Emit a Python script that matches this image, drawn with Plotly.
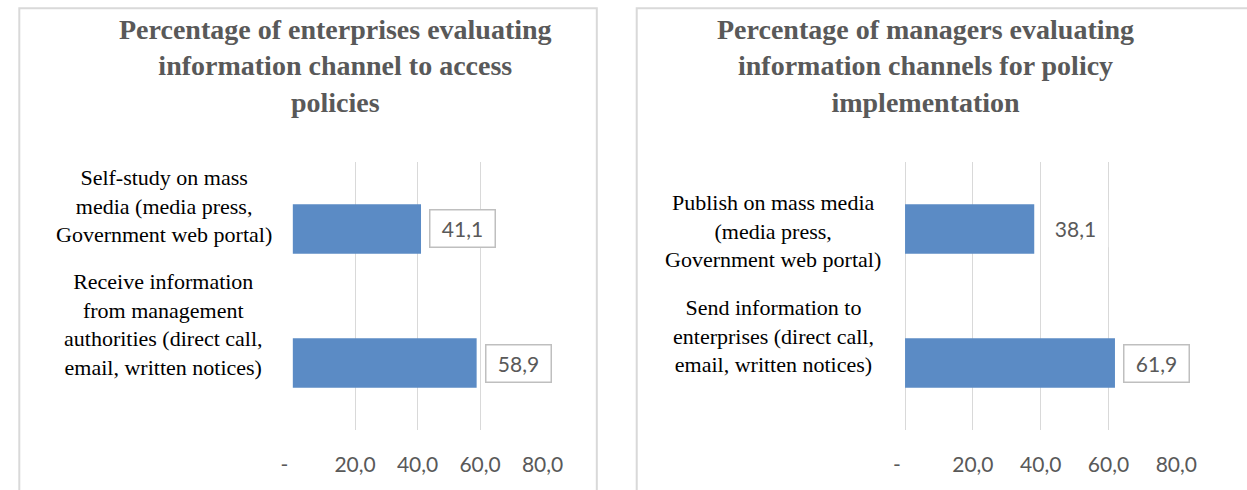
import plotly.graph_objects as go

# Survey results: share (%) choosing each information channel
left_title = "Percentage of enterprises evaluating<br>information channel to access<br>policies"
left_categories = [
    "Self-study on mass<br>media (media press,<br>Government web portal)",
    "Receive information<br>from management<br>authorities (direct call,<br>email, written notices)",
]
left_values = [41.1, 58.9]

right_title = "Percentage of managers evaluating<br>information channels for policy<br>implementation"
right_categories = [
    "Publish on mass media<br>(media press,<br>Government web portal)",
    "Send information to<br>enterprises (direct call,<br>email, written notices)",
]
right_values = [38.1, 61.9]

tick_values = [0, 20, 40, 60, 80]
tick_labels = ["-\u00a0\u00a0\u00a0", "20,0", "40,0", "60,0", "80,0"]

# ---- styling / layout constants ----
W, H = 1247, 490
BAR_COLOR = "#5b8bc5"
GRID = "#d9d9d9"
TEXT_GREY = "#595959"
SERIF = "Liberation Serif, Times New Roman, serif"
SANS = "Lato, Calibri, sans-serif"


def px_x(v):
    return v / W


def px_y(v):
    return 1 - v / H


def fmt(v):
    return f"{v:.1f}".replace(".", ",")


fig = go.Figure()
fig.add_trace(go.Bar(x=left_values, y=left_categories, orientation="h",
                     marker=dict(color=BAR_COLOR, line=dict(width=0)),
                     width=0.37, xaxis="x", yaxis="y", hoverinfo="skip"))
fig.add_trace(go.Bar(x=right_values, y=right_categories, orientation="h",
                     marker=dict(color=BAR_COLOR, line=dict(width=0)),
                     width=0.37, xaxis="x2", yaxis="y2", hoverinfo="skip"))

y_dom = [px_y(430), px_y(162)]
xaxis_common = dict(
    range=[0, 80], autorange=False, tickmode="array", tickvals=tick_values,
    ticktext=tick_labels,
    showgrid=True, gridcolor=GRID, gridwidth=1, showline=False, ticks="",
    tickfont=dict(family=SANS, size=21, color=TEXT_GREY),
    ticklabelstandoff=20, fixedrange=True,
)
yaxis_common = dict(type="category", range=[1.5, -0.5], autorange=False,
                    showticklabels=False, showgrid=False, showline=False,
                    zeroline=False, ticks="", fixedrange=True)

fig.update_layout(
    width=W, height=H,
    margin=dict(l=0, r=0, t=0, b=0),
    paper_bgcolor="white", plot_bgcolor="white",
    showlegend=False, bargap=0.6,
    xaxis=dict(domain=[px_x(288.2), px_x(545)], anchor="y",
               zeroline=True, zerolinecolor="white", zerolinewidth=1,
               **xaxis_common),
    yaxis=dict(domain=y_dom, anchor="x", **yaxis_common),
    xaxis2=dict(domain=[px_x(917.3), px_x(1196)], anchor="y2",
                zeroline=True, zerolinecolor=GRID, zerolinewidth=1,
                **xaxis_common),
    yaxis2=dict(domain=y_dom, anchor="x2", **yaxis_common),
)

# panel frames
fig.add_shape(type="rect", xref="paper", yref="paper",
              x0=px_x(7.5), x1=px_x(600.7), y0=-0.2, y1=px_y(8.2),
              line=dict(color=GRID, width=2), fillcolor="rgba(0,0,0,0)", layer="below")
fig.add_shape(type="rect", xref="paper", yref="paper",
              x0=px_x(641.7), x1=1.2, y0=-0.2, y1=px_y(8.2),
              line=dict(color=GRID, width=2), fillcolor="rgba(0,0,0,0)", layer="below")

# titles
for text, cx in [(left_title, 332), (right_title, 938)]:
    fig.add_annotation(text=text, xref="paper", yref="paper",
                       x=px_x(cx), y=px_y(66), xanchor="center", yanchor="middle",
                       showarrow=False, align="center",
                       font=dict(family=SERIF, size=28, color=TEXT_GREY, weight="bold"))

# category labels (left of each bar)
label_shift_left = [23, 39]
label_shift_right = [-2, 27]
for cats, yref, cx, shifts in [(left_categories, "y", 156, label_shift_left),
                               (right_categories, "y2", 782, label_shift_right)]:
    for cat, sh in zip(cats, shifts):
        fig.add_annotation(text=cat, xref="paper", yref=yref, x=px_x(cx), y=cat,
                           xanchor="center", yanchor="middle", yshift=sh,
                           showarrow=False, align="center",
                           font=dict(family=SERIF, size=22, color="black"))

# value labels
left_boxed = [True, True]
right_boxed = [False, True]
for cats, vals, xref, yref, boxed in [
        (left_categories, left_values, "x", "y", left_boxed),
        (right_categories, right_values, "x2", "y2", right_boxed)]:
    for cat, v, b in zip(cats, vals, boxed):
        fig.add_annotation(text=fmt(v), xref=xref, yref=yref, x=v, y=cat,
                           xanchor="left", yanchor="middle", xshift=8,
                           showarrow=False, width=54, height=26, borderpad=5,
                           bordercolor="#bfbfbf" if b else "rgba(0,0,0,0)",
                           borderwidth=1.5, bgcolor="white",
                           font=dict(family=SANS, size=21, color=TEXT_GREY))

fig.write_html("out.html")
